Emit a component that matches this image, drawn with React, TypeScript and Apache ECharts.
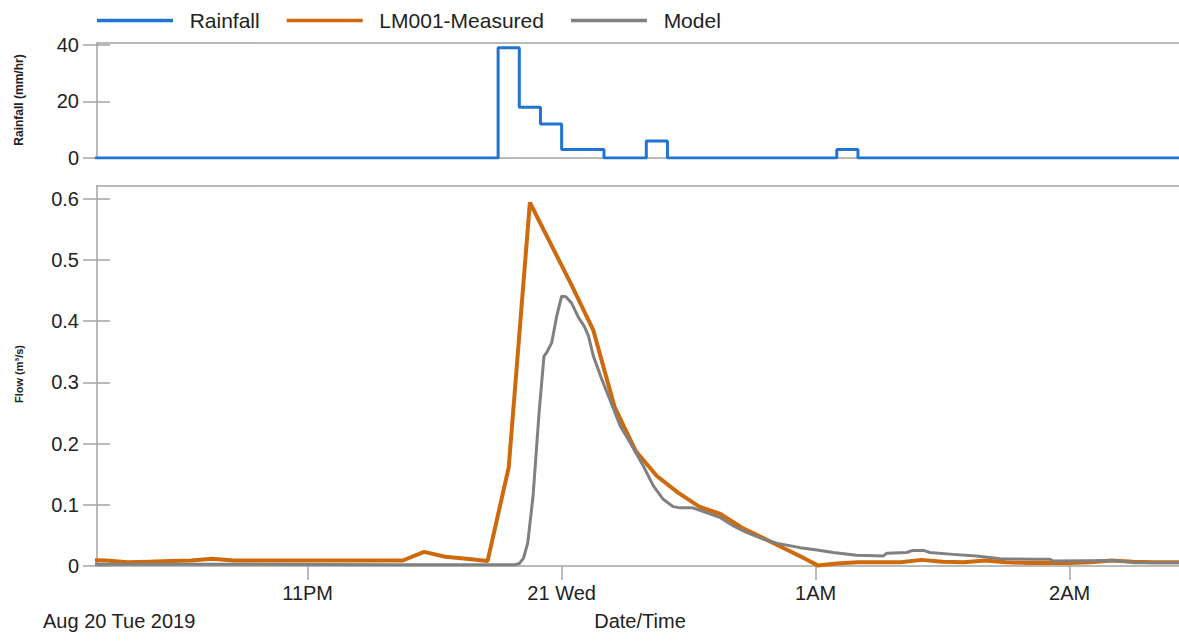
import React, { useEffect, useRef } from 'react';
import * as echarts from 'echarts';

// ---- data ----
const axisStart = '22:10:15';
const axisEnd = '02:25:50';

const xTickTimes = ['23:00', '00:00', '01:00', '02:00'];
const xTickLabels = ['11PM', '21 Wed', '1AM', '2AM'];

const rainTicks = [0, 20, 40];
const flowTicks = [0, 0.1, 0.2, 0.3, 0.4, 0.5, 0.6];

const rainfallTimes = ['22:05', '23:45', '23:50', '23:55', '00:00', '00:10', '00:20', '00:25', '01:05', '01:10', '02:30'];
const rainfallValues = [0, 39, 18, 12, 3, 0, 6, 0, 3, 0, 0];

const measuredTimes = [
  '22:07:30', '22:12:30', '22:17:30', '22:22:30', '22:27:30', '22:32:30', '22:37:30', '22:42:30',
  '22:47:30', '22:52:30', '22:57:30', '23:02:30', '23:07:30', '23:12:30', '23:17:30', '23:22:30',
  '23:27:30', '23:32:30', '23:37:30', '23:42:30', '23:47:30', '23:52:30', '00:02:30', '00:07:30',
  '00:12:30', '00:17:30', '00:22:30', '00:27:30', '00:32:30', '00:37:30', '00:42:30', '00:47:30',
  '00:52:30', '00:57:30', '01:00:30', '01:05', '01:10', '01:15', '01:20', '01:25', '01:30', '01:35',
  '01:40', '01:45', '01:50', '01:55', '02:00', '02:05', '02:10', '02:15', '02:20', '02:25', '02:30',
];
const measuredValues = [
  0.010, 0.009, 0.006, 0.007, 0.008, 0.009, 0.012, 0.009,
  0.009, 0.009, 0.009, 0.009, 0.009, 0.009, 0.009, 0.009,
  0.023, 0.015, 0.012, 0.008, 0.161, 0.594, 0.457, 0.385,
  0.26, 0.188, 0.147, 0.12, 0.097, 0.085, 0.063, 0.046,
  0.029, 0.012, 0.001, 0.004, 0.006, 0.006, 0.006, 0.010, 0.007, 0.006,
  0.009, 0.006, 0.005, 0.005, 0.005, 0.006, 0.009, 0.007, 0.006, 0.006, 0.006,
];

const modelTimes = [
  '22:05', '22:40', '23:20', '23:49', '23:50', '23:51', '23:52', '23:53:15', '23:54:40', '23:55:50',
  '23:56:30', '23:57:40', '23:58:50', '00:00', '00:01', '00:02:20', '00:04', '00:05:20', '00:06:20',
  '00:07:30', '00:09:30', '00:11:30', '00:13:50', '00:16:10', '00:19:20', '00:21:40', '00:24',
  '00:26:20', '00:28', '00:31', '00:34:20', '00:37:30', '00:40:40', '00:43:40', '00:47:40', '00:51',
  '00:56:20', '01:00:20', '01:04:10', '01:09:40', '01:16', '01:16:50', '01:21:30', '01:23', '01:25:30',
  '01:27', '01:32:30', '01:38', '01:43:40', '01:51:30', '01:55:20', '01:56:10', '02:11', '02:15', '02:30',
];
const modelValues = [
  0.003, 0.003, 0.002, 0.002, 0.004, 0.013, 0.038, 0.114, 0.25, 0.343,
  0.349, 0.365, 0.408, 0.441, 0.44, 0.43, 0.406, 0.392, 0.376,
  0.343, 0.305, 0.27, 0.229, 0.202, 0.163, 0.131, 0.109,
  0.097, 0.095, 0.095, 0.087, 0.079, 0.065, 0.055, 0.044, 0.037,
  0.03, 0.026, 0.022, 0.0175, 0.0165, 0.021, 0.022, 0.0255, 0.0255,
  0.022, 0.019, 0.0165, 0.012, 0.011, 0.011, 0.008, 0.009, 0.0055, 0.0055,
];

// ---- helpers ----
function toMs(t: string): number {
  const [h, m, s] = t.split(':').map(Number);
  const day = h >= 12 ? 20 : 21;
  return Date.UTC(2019, 7, day, h, m, s || 0);
}
const pairs = (times: string[], values: number[]) => times.map((t, i) => [toMs(t), values[i]]);

const FONT = 'Arial, "Liberation Sans", sans-serif';
const TEXT = '#222222';
const AXIS = '#a3a3a3';
const BLUE = '#1f74d2';
const ORANGE = '#cf6a0c';
const GRAY = '#808080';

export default function App() {
  const ref = useRef<HTMLDivElement>(null);

  useEffect(() => {
    if (!ref.current) return;
    const chart = echarts.init(ref.current, undefined, { renderer: 'svg' });
    const xMin = toMs(axisStart);
    const xMax = toMs(axisEnd);
    const xTickMs = xTickTimes.map(toMs);
    const line = { lineStyle: { color: AXIS, width: 1.5 } };

    const hiddenX = (grid: number, pos: string) => ({
      type: 'value', gridIndex: grid, position: pos, min: xMin, max: xMax, scale: true,
      axisLine: { show: true, onZero: false, ...line }, axisTick: { show: false },
      axisLabel: { show: false }, splitLine: { show: false },
    });

    const yAxisPair = (grid: number, max: number, ticks: number[]) => [
      {
        type: 'value', gridIndex: grid, min: 0, max,
        axisLine: { show: true, ...line },
        axisTick: { show: true, length: 14, customValues: ticks, ...line },
        axisLabel: {
          customValues: ticks, margin: 18, fontSize: 20, color: TEXT, fontFamily: FONT,
          formatter: (v: number) => String(Math.round(v * 10) / 10),
        },
        splitLine: { show: false },
      },
      {
        type: 'value', gridIndex: grid, min: 0, max, position: 'left',
        axisLine: { show: false },
        axisTick: { show: true, inside: true, length: 13, customValues: ticks, ...line },
        axisLabel: { show: false }, splitLine: { show: false },
      },
    ];

    chart.setOption({
      animation: false,
      backgroundColor: '#ffffff',
      legend: {
        left: 97, top: 10, padding: 0, itemWidth: 76, itemHeight: 3.5, itemGap: 27, icon: 'rect',
        formatter: (n: string) => '  ' + n,
        textStyle: { fontSize: 21, color: TEXT, fontFamily: FONT },
        data: ['Rainfall', 'LM001-Measured', 'Model'],
      },
      grid: [
        { left: 97, right: 0, top: 43, height: 115 },
        { left: 97, right: 0, top: 186, height: 380 },
      ],
      xAxis: [
        hiddenX(0, 'bottom'),
        hiddenX(0, 'top'),
        {
          type: 'value', gridIndex: 1, position: 'bottom', min: xMin, max: xMax, scale: true,
          axisLine: { show: true, onZero: false, ...line },
          axisTick: { show: true, length: 14, customValues: xTickMs, ...line },
          axisLabel: {
            customValues: xTickMs, margin: 17, fontSize: 20, color: TEXT, fontFamily: FONT,
            formatter: (v: number) => {
              const i = xTickMs.indexOf(v);
              return i >= 0 ? xTickLabels[i] : '';
            },
          },
          splitLine: { show: false },
        },
        hiddenX(1, 'top'),
      ],
      yAxis: [...yAxisPair(0, 40.7, rainTicks), ...yAxisPair(1, 0.621, flowTicks)],
      series: [
        {
          name: 'Rainfall', type: 'line', xAxisIndex: 0, yAxisIndex: 0, step: 'end', symbol: 'none',
          data: pairs(rainfallTimes, rainfallValues),
          lineStyle: { color: BLUE, width: 3 }, itemStyle: { color: BLUE },
        },
        {
          name: 'LM001-Measured', type: 'line', xAxisIndex: 2, yAxisIndex: 2, symbol: 'none',
          data: pairs(measuredTimes, measuredValues),
          lineStyle: { color: ORANGE, width: 4 }, itemStyle: { color: ORANGE },
        },
        {
          name: 'Model', type: 'line', xAxisIndex: 2, yAxisIndex: 2, symbol: 'none',
          data: pairs(modelTimes, modelValues),
          lineStyle: { color: GRAY, width: 3 }, itemStyle: { color: GRAY },
        },
      ],
      graphic: [
        {
          type: 'text', x: 19, y: 100, rotation: Math.PI / 2,
          style: { text: 'Rainfall (mm/hr)', fontSize: 12, fontWeight: 'bold', fontFamily: FONT, fill: TEXT, align: 'center', verticalAlign: 'middle' },
        },
        {
          type: 'text', x: 19, y: 374, rotation: Math.PI / 2,
          style: { text: 'Flow (m³/s)', fontSize: 11, fontWeight: 'bold', fontFamily: FONT, fill: TEXT, align: 'center', verticalAlign: 'middle' },
        },
        {
          type: 'text', x: 43, y: 621,
          style: { text: 'Aug 20 Tue 2019', fontSize: 20, fontFamily: FONT, fill: TEXT, align: 'left', verticalAlign: 'middle' },
        },
        {
          type: 'text', x: 640, y: 621,
          style: { text: 'Date/Time', fontSize: 20, fontFamily: FONT, fill: TEXT, align: 'center', verticalAlign: 'middle' },
        },
      ],
    });
    return () => chart.dispose();
  }, []);

  return <div ref={ref} style={{ position: 'fixed', left: 0, top: 0, width: 1179, height: 641 }} />;
}
